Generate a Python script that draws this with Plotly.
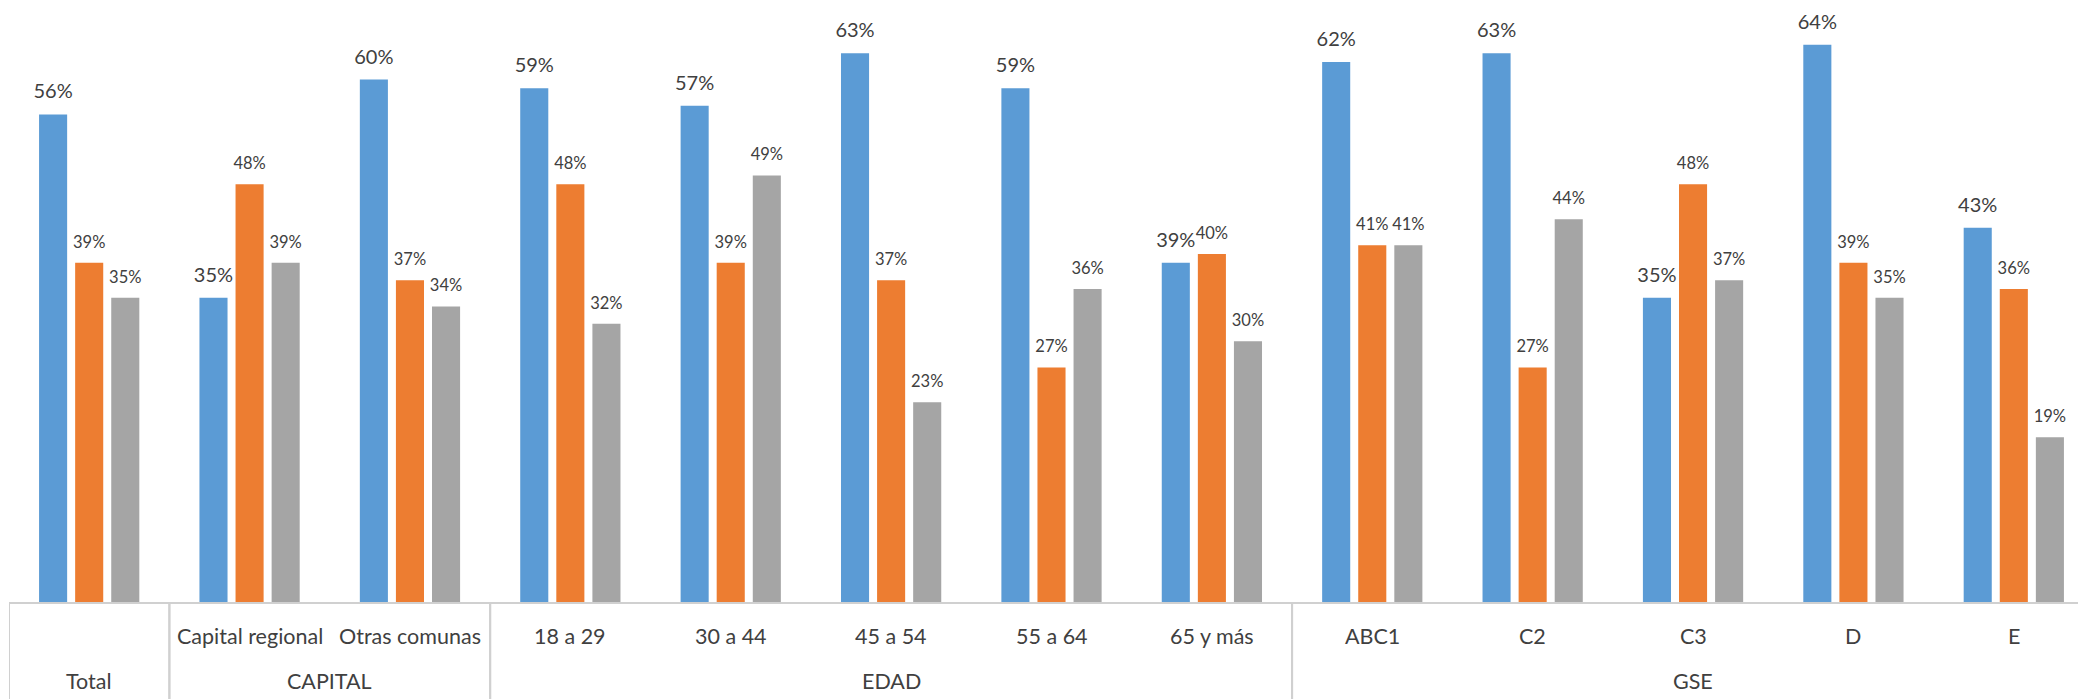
import plotly.graph_objects as go

categories = ["Total", "Capital regional", "Otras comunas", "18 a 29", "30 a 44", "45 a 54",
              "55 a 64", "65 y más", "ABC1", "C2", "C3", "D", "E"]
group_spans = [(0, 0), (1, 2), (3, 7), (8, 12)]
outer_labels = ["Total", "CAPITAL", "EDAD", "GSE"]
inner_labels = ["", "Capital regional", "Otras comunas", "18 a 29", "30 a 44", "45 a 54",
                "55 a 64", "65 y más", "ABC1", "C2", "C3", "D", "E"]

serie_azul = [56, 35, 60, 59, 57, 63, 59, 39, 62, 63, 35, 64, 43]
serie_naranja = [39, 48, 37, 48, 39, 37, 27, 40, 41, 27, 48, 39, 36]
serie_gris = [35, 39, 34, 32, 49, 23, 36, 30, 41, 44, 37, 35, 19]

colors = ["#5B9BD5", "#ED7D31", "#A5A5A5"]
label_sizes = [20, 16.5, 16.5]
text_color = "#404040"
font_family = "Lato, 'Open Sans', sans-serif"

W, H = 2086, 699
top_m, bot_m, left_m, right_m = 24, 104, 1, 0
plot_h = H - top_m - bot_m

xs = list(range(len(categories)))
fig = go.Figure()
for k, (vals, col) in enumerate(zip([serie_azul, serie_naranja, serie_gris], colors)):
    fig.add_trace(go.Bar(
        x=xs, y=vals, offsetgroup=str(k),
        marker=dict(color=col, line=dict(width=0)),
        hoverinfo="skip",
    ))
for k, (vals, fs) in enumerate(zip([serie_azul, serie_naranja, serie_gris], label_sizes)):
    fig.add_trace(go.Scatter(
        x=xs, y=vals, offsetgroup=str(k), mode="markers+text",
        marker=dict(size=16, opacity=0),
        text=[f"{v}%" for v in vals], textposition="top center",
        textfont=dict(size=fs, color=text_color, family=font_family),
        cliponaxis=False, hoverinfo="skip",
    ))

fig.update_layout(
    width=W, height=H,
    margin=dict(l=left_m, r=right_m, t=top_m, b=bot_m),
    barmode="group", bargap=0.325, bargroupgap=0.222,
    scattermode="group",
    plot_bgcolor="white", paper_bgcolor="white",
    showlegend=False,
    font=dict(family=font_family, color=text_color),
)
fig.update_xaxes(range=[-0.5, len(categories) - 0.5], showticklabels=False,
                 showgrid=False, zeroline=False, showline=False, ticks="")
fig.update_yaxes(range=[0, 65.45], visible=False)

line_col = "#D0D0D0"
y_bottom = -bot_m / plot_h
fig.add_shape(type="line", xref="x", yref="paper", x0=-0.5, x1=len(categories) - 0.5,
              y0=0, y1=0, line=dict(color=line_col, width=2))
for (a, b) in group_spans:
    for xb in (a - 0.5, b + 0.5):
        fig.add_shape(type="line", xref="x", yref="paper", x0=xb, x1=xb,
                      y0=0, y1=y_bottom, line=dict(color=line_col, width=2))

inner_y = -33 / plot_h
outer_y = -78 / plot_h
for i, lab in enumerate(inner_labels):
    if lab:
        fig.add_annotation(x=i, y=inner_y, xref="x", yref="paper", yanchor="middle",
                           text=lab, showarrow=False,
                           font=dict(size=21.5, color=text_color, family=font_family))
for (a, b), lab in zip(group_spans, outer_labels):
    fig.add_annotation(x=(a + b) / 2, y=outer_y, xref="x", yref="paper", yanchor="middle",
                       text=lab, showarrow=False,
                       font=dict(size=21.5, color=text_color, family=font_family))

fig.write_html("out.html")
